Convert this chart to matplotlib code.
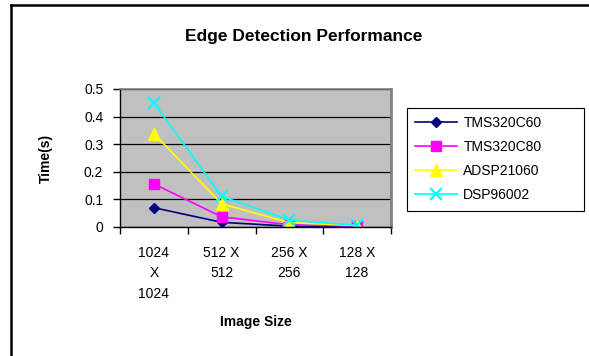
import matplotlib
matplotlib.use("Agg")
import matplotlib.pyplot as plt
from matplotlib.lines import Line2D

plt.rcParams['font.family'] = ['Liberation Sans', 'DejaVu Sans']

# categories (image size)
sizes = ['1024\nX\n1024', '512 X\n512', '256 X\n256', '128 X\n128']
# times in seconds
tms320c60 = [0.07, 0.017, 0.003, 0.001]
tms320c80 = [0.156, 0.037, 0.008, 0.003]
adsp21060 = [0.338, 0.084, 0.016, 0.005]
dsp96002 = [0.45, 0.111, 0.025, 0.006]
y_ticks = [0, 0.1, 0.2, 0.3, 0.4, 0.5]
y_labels = ['0', '0.1', '0.2', '0.3', '0.4', '0.5']

W, H = 589, 356
fig = plt.figure(figsize=(W / 100, H / 100), dpi=100)
ax = fig.add_axes([120 / W, 129 / H, 271 / W, 138 / H])
ax.set_facecolor('#C0C0C0')

x = list(range(len(sizes)))
ln1, = ax.plot(x, tms320c60, color='#000080', lw=1.2, marker='D', ms=5.5)
ln2, = ax.plot(x, tms320c80, color='#FF00FF', lw=1.2, marker='s', ms=7.5)
ln3, = ax.plot(x, adsp21060, color='#FFFF00', lw=1.2, marker='^', ms=8)
ln4, = ax.plot(x, dsp96002, color='#00FFFF', lw=1.2, marker='x', ms=8, mew=1.6)

ax.set_xlim(-0.5, 3.5)
ax.set_ylim(0, 0.5)
ax.set_yticks(y_ticks)
ax.set_yticklabels(y_labels)
ax.yaxis.grid(True, color='black', lw=0.9)
ax.set_axisbelow(True)

# category boundaries as major ticks, labels on minor ticks
ax.set_xticks([-0.5, 0.5, 1.5, 2.5, 3.5])
ax.set_xticklabels([])
ax.set_xticks(x, minor=True)
ax.set_xticklabels(sizes, minor=True, linespacing=1.55)
ax.tick_params(axis='x', which='major', direction='out', length=5, width=1)
ax.tick_params(axis='x', which='minor', length=0, pad=14, labelsize=10)
ax.tick_params(axis='y', direction='out', length=5, width=1, pad=7, labelsize=10)

for s in ['left', 'bottom']:
    ax.spines[s].set_color('black')
    ax.spines[s].set_linewidth(1)
ax.spines['top'].set_color('#808080')
ax.spines['top'].set_linewidth(1.2)
ax.spines['right'].set_color('#808080')
ax.spines['right'].set_linewidth(2)

ax.set_ylabel('Time(s)', fontsize=10, fontweight='bold')
ax.yaxis.set_label_coords(-0.247, 0.5)
ax.set_xlabel('Image Size', fontsize=10, fontweight='bold')
ax.xaxis.set_label_coords(0.5, -0.69)
ax.xaxis.label.set_va('center')

fig.text(304 / W, 1 - 37 / H, 'Edge Detection Performance', ha='center',
         va='center', fontsize=12.5, fontweight='bold')

leg = fig.legend(handles=[ln1, ln2, ln3, ln4],
                 labels=['TMS320C60', 'TMS320C80', 'ADSP21060', 'DSP96002'],
                 loc='upper left', mode='expand',
                 bbox_to_anchor=(407 / W, 1 - 208 / H, 177 / W, 100 / H),
                 fontsize=10, frameon=True, fancybox=False, framealpha=1,
                 edgecolor='black', handlelength=3.0, handletextpad=0.45,
                 labelspacing=0.72, borderpad=0.6, borderaxespad=0)
leg.get_frame().set_linewidth(0.8)

# chart area border (top and left edges visible)
fig.add_artist(Line2D([11 / W, 11 / W], [0, 1 - 5 / H], color='black', lw=1.8,
                      transform=fig.transFigure))
fig.add_artist(Line2D([11 / W, 1], [1 - 5 / H, 1 - 5 / H], color='black', lw=1.8,
                      transform=fig.transFigure))

fig.savefig('out.png', dpi=100)
